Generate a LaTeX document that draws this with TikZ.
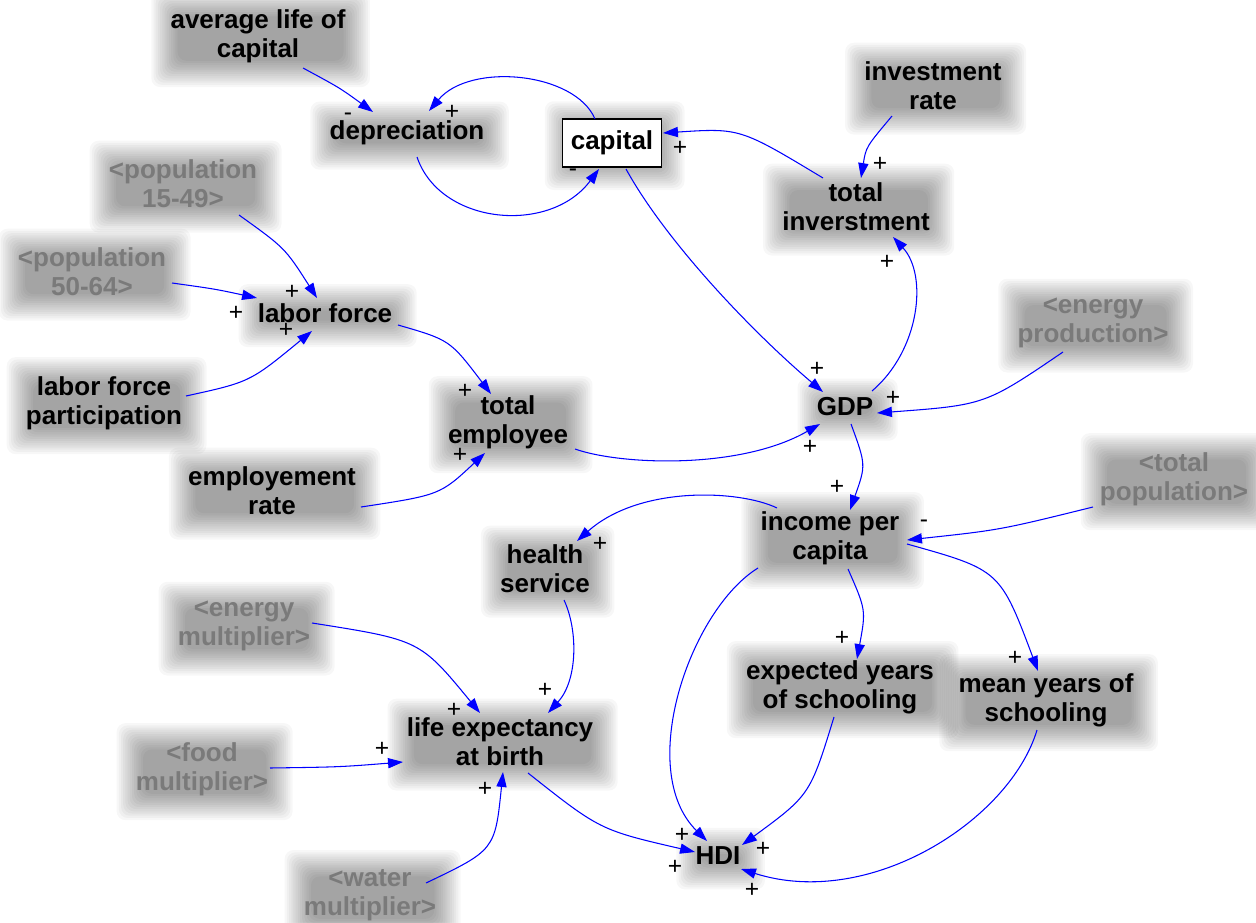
\documentclass[tikz,border=0pt]{standalone}
\usepackage{fontspec}
\setmainfont{Liberation Sans}
\usetikzlibrary{arrows.meta,calc}
\pgfdeclarelayer{background}
\pgfsetlayers{background,main}
\definecolor{linkblue}{RGB}{0,0,255}
\definecolor{ghost}{RGB}{122,122,122}
\tikzset{
  var/.style={align=center, font=\bfseries\fontsize{14.8}{16.5}\selectfont, inner sep=1pt},
  ghostvar/.style={var, text=ghost},
  stockbox/.style={var, draw=black, fill=white, line width=0.7pt, minimum width=1.98cm, minimum height=0.96cm},
  link/.style={draw=linkblue, line width=0.6pt, -{Triangle[length=8.5pt,width=5.8pt]}},
  pol/.style={font=\fontsize{14}{14}\selectfont, inner sep=0pt},
  hazelayer/.style={fill=black, fill opacity=0.033, rounded corners=5pt},
}
\newcommand{\haze}[1]{%
  \begin{pgfonlayer}{background}
  \foreach \k in {-3,...,9}{%
    \path[hazelayer] ($(#1.south west)+(-\k*1.25pt+1.5pt,-\k*1.25pt-1.5pt)$) rectangle ($(#1.north east)+(\k*1.25pt+1.5pt,\k*1.25pt-1.5pt)$);}
  \end{pgfonlayer}}
\begin{document}
\begin{tikzpicture}[x=0.02cm, y=-0.02cm]
\path[use as bounding box] (0,0) rectangle (1256,922);
\begin{pgfonlayer}{background}
\fill[white] (0,0) rectangle (1256,922);
\end{pgfonlayer}
% variables
\node[var] (avg) at (258,36) {average life of\\capital};
\node[var] (dep) at (407,133) {depreciation};
\node[stockbox] (cap) at (612,143) {capital};
\node[var] (inv) at (933,86) {investment\\rate};
\node[var] (tinv) at (856,207) {total\\inverstment};
\node[ghostvar] (p1549) at (183,184) {<population\\15-49>};
\node[ghostvar] (p5064) at (92,272) {<population\\50-64>};
\node[var] (lf) at (325,313) {labor force};
\node[var] (lfp) at (104,403) {labor force\\participation};
\node[var] (te) at (508,422) {total\\employee};
\node[var] (er) at (272,491) {employement\\rate};
\node[var] (gdp) at (845,407) {GDP};
\node[ghostvar] (ep) at (1093,323) {<energy\\production>};
\node[ghostvar] (tp) at (1174,479) {<total\\population>};
\node[var] (ipc) at (830,538) {income per\\capita};
\node[var] (hs) at (545,569) {health\\service};
\node[ghostvar] (em) at (244,626) {<energy\\multiplier>};
\node[var] (le) at (500,742) {life expectancy\\at birth};
\node[ghostvar] (fm) at (202,769) {<food\\multiplier>};
\node[ghostvar] (wm) at (370,895) {<water\\multiplier>};
\node[var] (eys) at (840,687) {expected years\\of schooling};
\node[var] (mys) at (1046,700) {mean years of\\schooling};
\node[var] (hdi) at (718,856) {HDI};
\foreach \n in {avg,dep,cap,inv,tinv,p1549,p5064,lf,lfp,te,er,gdp,ep,tp,ipc,hs,em,le,fm,wm,eys,mys,hdi}{\haze{\n}}
% links
\draw[link] ($(avg)+(45,32)$) .. controls (340,88) .. ($(dep)+(-34,-21)$);
\draw[link] ($(cap)+(-17,-24)$) .. controls (575,72) and (470,62) .. ($(dep)+(22,-22)$);
\draw[link] ($(dep)+(10,24)$) .. controls (440,225) and (550,235) .. ($(cap)+(-13,26)$);
\draw[link] ($(tinv)+(-33,-29)$) .. controls (740,128) .. ($(cap)+(51,-10)$);
\draw[link] ($(inv)+(-41,30)$) .. controls (866,147) .. ($(tinv)+(5,-29)$);
\draw[link] ($(cap)+(14,26)$) .. controls (665,240) and (750,330) .. ($(gdp)+(-22,-15)$);
\draw[link] ($(gdp)+(27,-16)$) .. controls (920,350) and (928,275) .. ($(tinv)+(37,30)$);
\draw[link] ($(ep)+(-30,29)$) .. controls (985,405) .. ($(gdp)+(32,6)$);
\draw[link] ($(p1549)+(56,31)$) .. controls (285,248) .. ($(lf)+(-8,-15)$);
\draw[link] ($(p5064)+(80,11)$) .. controls (215,289) .. ($(lf)+(-68,-15)$);
\draw[link] ($(lfp)+(82,-7)$) .. controls (250,382) .. ($(lf)+(-13,18)$);
\draw[link] ($(lf)+(73,12)$) .. controls (450,340) .. ($(te)+(-17,-28)$);
\draw[link] ($(er)+(89,16)$) .. controls (440,495) .. ($(te)+(-23,31)$);
\draw[link] ($(te)+(67,27)$) .. controls (620,465) and (740,470) .. ($(gdp)+(-25,17)$);
\draw[link] ($(gdp)+(6,17)$) .. controls (866,465) .. ($(ipc)+(20,-28)$);
\draw[link] ($(tp)+(-81,28)$) .. controls (1000,530) .. ($(ipc)+(77,2)$);
\draw[link] ($(ipc)+(-53,-30)$) .. controls (740,490) and (640,485) .. ($(hs)+(32,-28)$);
\draw[link] ($(ipc)+(18,31)$) .. controls (866,610) .. ($(eys)+(17,-28)$);
\draw[link] ($(ipc)+(77,6)$) .. controls (1000,570) .. ($(mys)+(-8,-29)$);
\draw[link] ($(ipc)+(-72,30)$) .. controls (690,610) and (635,770) .. ($(hdi)+(-11,-15)$);
\draw[link] ($(eys)+(-6,30)$) .. controls (810,795) .. ($(hdi)+(24,-11)$);
\draw[link] ($(mys)+(-9,30)$) .. controls (1010,820) and (870,910) .. ($(hdi)+(23,13)$);
\draw[link] ($(hs)+(19,31)$) .. controls (578,630) and (578,680) .. ($(le)+(48,-29)$);
\draw[link] ($(em)+(68,-3)$) .. controls (420,640) .. ($(le)+(-20,-29)$);
\draw[link] ($(fm)+(68,-1)$) .. controls (340,767) .. ($(le)+(-97,20)$);
\draw[link] ($(wm)+(56,-12)$) .. controls (495,850) .. ($(le)+(3,30)$);
\draw[link] ($(le)+(28,31)$) .. controls (600,830) .. ($(hdi)+(-23,-4)$);
% polarities
\node[pol] (s1) at (348,117) {-};
\node[pol] (s2) at (452,112) {+};
\node[pol] (s3) at (573,173) {-};
\node[pol] (s4) at (680,148) {+};
\node[pol] (s5) at (880,164) {+};
\node[pol] (s6) at (817,369) {+};
\node[pol] (s7) at (887,262) {+};
\node[pol] (s8) at (893,398) {+};
\node[pol] (s9) at (292,292) {+};
\node[pol] (s10) at (236,313) {+};
\node[pol] (s11) at (286,330) {+};
\node[pol] (s12) at (465,391) {+};
\node[pol] (s13) at (460,455) {+};
\node[pol] (s14) at (810,447) {+};
\node[pol] (s15) at (837,487) {+};
\node[pol] (s16) at (924,524) {-};
\node[pol] (s17) at (600,544) {+};
\node[pol] (s18) at (842,638) {+};
\node[pol] (s19) at (1015,658) {+};
\node[pol] (s20) at (682,835) {+};
\node[pol] (s21) at (763,849) {+};
\node[pol] (s22) at (752,890) {+};
\node[pol] (s23) at (545,690) {+};
\node[pol] (s24) at (454,710) {+};
\node[pol] (s25) at (382,749) {+};
\node[pol] (s26) at (485,789) {+};
\node[pol] (s27) at (675,867) {+};
\end{tikzpicture}
\end{document}
